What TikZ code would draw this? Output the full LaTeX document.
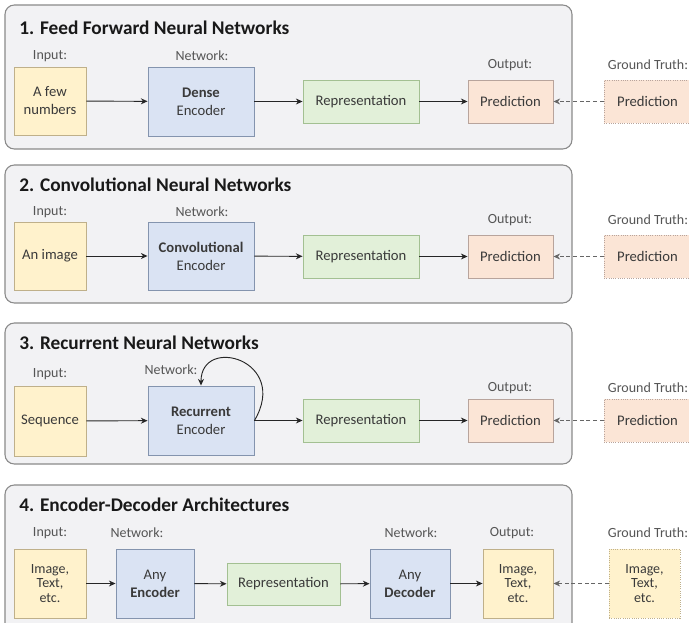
\documentclass[tikz,border=0pt]{standalone}
\usepackage{fontspec}
\setmainfont{Carlito}
\usetikzlibrary{arrows.meta}

\definecolor{panelfill}{HTML}{F2F2F4}
\definecolor{panelline}{HTML}{8A8A8A}
\definecolor{infill}{HTML}{FFF2CC}
\definecolor{inline}{HTML}{BFB08A}
\definecolor{encfill}{HTML}{DAE3F3}
\definecolor{encline}{HTML}{8494AE}
\definecolor{repfill}{HTML}{E2F0D9}
\definecolor{repline}{HTML}{A3C092}
\definecolor{predfill}{HTML}{FBE5D6}
\definecolor{predline}{HTML}{B8A49C}
\definecolor{boxtext}{HTML}{3A3A3A}
\definecolor{lbltext}{HTML}{555555}

\tikzset{
  panel/.style={draw=panelline, fill=panelfill, rounded corners=7pt, line width=0.8pt, inner sep=0pt},
  box/.style={draw, line width=0.7pt, inner sep=0pt, align=center, text=boxtext,
    font=\fontsize{11}{13.5}\selectfont},
  inbox/.style={box, fill=infill, draw=inline},
  encbox/.style={box, fill=encfill, draw=encline},
  repbox/.style={box, fill=repfill, draw=repline},
  predbox/.style={box, fill=predfill, draw=predline},
  gtpred/.style={predbox, densely dotted},
  gtin/.style={inbox, densely dotted},
  threeline/.style={font=\fontsize{10.5}{11}\selectfont},
  lbl/.style={font=\fontsize{10.5}{12}\selectfont, text=lbltext, inner sep=0pt},
  title/.style={font=\bfseries\fontsize{14.5}{17}\selectfont, anchor=west, inner sep=0pt, text=black!90},
  flow/.style={-{Stealth[length=5pt,width=4.5pt]}, line width=0.7pt, draw=black!85},
  gtflow/.style={flow, dash pattern=on 3pt off 2pt, draw=black!60}
}

% box from corner (x1,y1) to corner (x2,y2), in image pixels
\newcommand{\mkbox}[7]{%
  \node[#2, minimum width={(#5-#3)*0.75pt}, minimum height={(#6-#4)*0.75pt}]
    (#1) at ({(#3+#5)/2},{(#4+#6)/2}) {#7};}

\begin{document}
\begin{tikzpicture}[x=0.75pt, y=-0.75pt]
\useasboundingbox (0,0) rectangle (689,622);
\fill[white] (0,0) rectangle (689,622);

% ---------- 1. Feed forward ----------
\mkbox{p1}{panel}{5}{5}{572}{149}{}
\node[title] (t1) at (19,28) {1. Feed Forward Neural Networks};
\mkbox{in1}{inbox}{14}{67}{86}{135}{A few\\numbers}
\mkbox{enc1}{encbox}{148}{67}{254}{136}{\textbf{Dense}\\Encoder}
\mkbox{rep1}{repbox}{303}{80}{419}{123}{Representation}
\mkbox{out1}{predbox}{468}{80}{553}{123}{Prediction}
\mkbox{gt1}{gtpred}{604}{80}{691}{123}{Prediction}
\node[lbl] (l1a) at (50,56) {Input:};
\node[lbl] (l1b) at (202,56) {Network:};
\node[lbl] (l1c) at (510,65) {Output:};
\node[lbl] (l1d) at (648,65) {Ground Truth:};
\draw[flow] (in1) -- (enc1);
\draw[flow] (enc1) -- (rep1);
\draw[flow] (rep1) -- (out1);
\draw[gtflow] (gt1) -- (out1);

% ---------- 2. Convolutional ----------
\mkbox{p2}{panel}{5}{165}{572}{303}{}
\node[title] (t2) at (19,185) {2. Convolutional Neural Networks};
\mkbox{in2}{inbox}{14}{222}{86}{290}{An image}
\mkbox{enc2}{encbox}{148}{222}{254}{290}{\textbf{Convolutional}\\Encoder}
\mkbox{rep2}{repbox}{303}{235}{419}{278}{Representation}
\mkbox{out2}{predbox}{468}{235}{553}{278}{Prediction}
\mkbox{gt2}{gtpred}{604}{235}{691}{278}{Prediction}
\node[lbl] (l2a) at (50,212) {Input:};
\node[lbl] (l2b) at (202,212) {Network:};
\node[lbl] (l2c) at (510,220) {Output:};
\node[lbl] (l2d) at (648,220) {Ground Truth:};
\draw[flow] (in2) -- (enc2);
\draw[flow] (enc2) -- (rep2);
\draw[flow] (rep2) -- (out2);
\draw[gtflow] (gt2) -- (out2);

% ---------- 3. Recurrent ----------
\mkbox{p3}{panel}{5}{323}{572}{464}{}
\node[title] (t3) at (19,343) {3. Recurrent Neural Networks};
\mkbox{in3}{inbox}{14}{386}{86}{456}{Sequence}
\mkbox{enc3}{encbox}{148}{386}{254}{455}{\textbf{Recurrent}\\Encoder}
\mkbox{rep3}{repbox}{303}{399}{419}{442}{Representation}
\mkbox{out3}{predbox}{468}{399}{553}{442}{Prediction}
\mkbox{gt3}{gtpred}{604}{399}{691}{442}{Prediction}
\node[lbl] (l3a) at (50,374) {Input:};
\node[lbl] (l3b) at (171,370) {Network:};
\node[lbl] (l3c) at (510,388) {Output:};
\node[lbl] (l3d) at (648,388) {Ground Truth:};
\draw[flow] (in3) -- (enc3);
\draw[flow] (enc3) -- (rep3);
\draw[flow] (rep3) -- (out3);
\draw[gtflow] (gt3) -- (out3);
\draw[flow] (enc3.east) .. controls (290,360) and (201,335) .. (enc3.north);

% ---------- 4. Encoder-decoder ----------
\mkbox{p4}{panel}{5}{485}{572}{632}{}
\node[title] (t4) at (19,505) {4. Encoder-Decoder Architectures};
\mkbox{in4}{inbox,threeline}{14}{549}{86}{618}{Image,\\Text,\\etc.}
\mkbox{enc4}{encbox}{116}{549}{194}{618}{Any\\\textbf{Encoder}}
\mkbox{rep4}{repbox}{227}{563}{340}{605}{Representation}
\mkbox{dec4}{encbox}{370}{549}{450}{618}{Any\\\textbf{Decoder}}
\mkbox{out4}{inbox,threeline}{483}{549}{553}{618}{Image,\\Text,\\etc.}
\mkbox{gt4}{gtin,threeline}{609}{549}{680}{618}{Image,\\Text,\\etc.}
\node[lbl] (l4a) at (50,533) {Input:};
\node[lbl] (l4b) at (137,533) {Network:};
\node[lbl] (l4c) at (411,533) {Network:};
\node[lbl] (l4d) at (512,533) {Output:};
\node[lbl] (l4e) at (648,533) {Ground Truth:};
\draw[flow] (in4) -- (enc4);
\draw[flow] (enc4) -- (rep4);
\draw[flow] (rep4) -- (dec4);
\draw[flow] (dec4) -- (out4);
\draw[gtflow] (gt4) -- (out4);
\end{tikzpicture}
\end{document}
